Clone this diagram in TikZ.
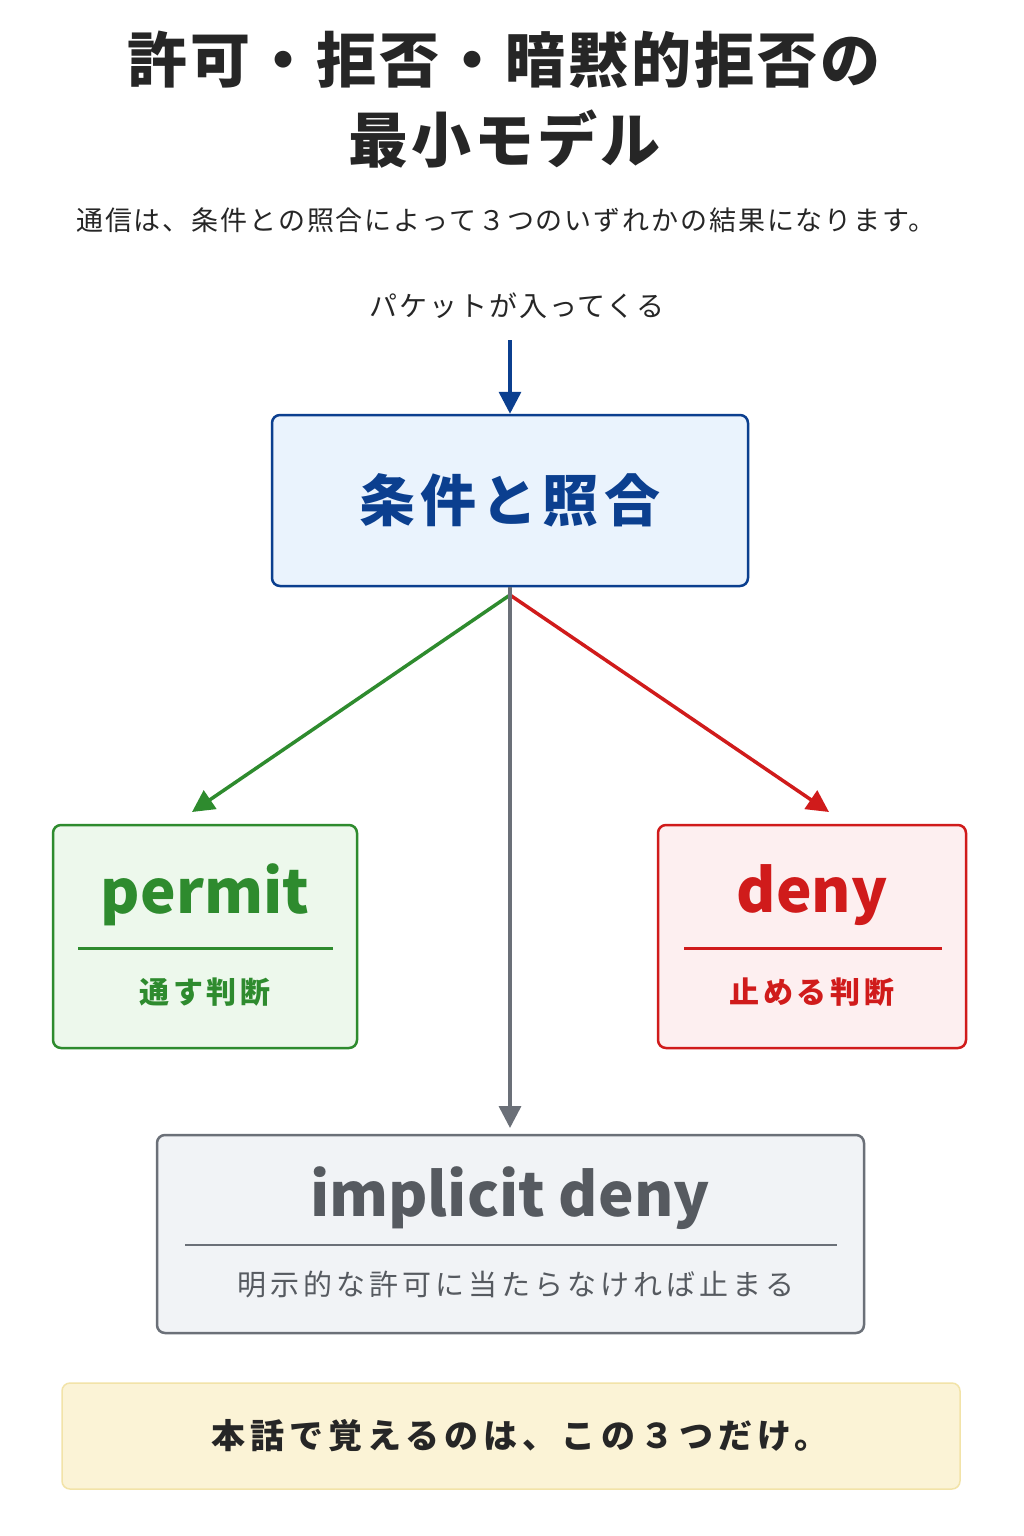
\documentclass[tikz,border=0pt]{standalone}
\usepackage{fontspec}
\setmainfont{Noto Sans CJK JP}
\usetikzlibrary{arrows.meta,positioning}
\definecolor{navy}{HTML}{0B3F8F}
\definecolor{bluefill}{HTML}{EAF3FD}
\definecolor{grn}{HTML}{2E8B2E}
\definecolor{grnfill}{HTML}{EDF8EC}
\definecolor{rd}{HTML}{D01B1B}
\definecolor{rdfill}{HTML}{FDEFF0}
\definecolor{gry}{HTML}{6B7078}
\definecolor{gryfill}{HTML}{F1F3F6}
\definecolor{ylw}{HTML}{FBF3D6}
\definecolor{ylwline}{HTML}{F2E3A8}
\newcommand{\spaced}[1]{\addfontfeature{LetterSpace=#1}}
\begin{document}
\begin{tikzpicture}[x=1pt,y=-1pt]
    \tikzstyle{box}=[draw,line width=2.5pt,rounded corners=8pt,inner sep=0pt]
    \tikzstyle{dedge}=[line width=3.5pt,-{Triangle[length=22pt,width=22pt]}]
    \useasboundingbox[fill=white] (0,0) rectangle (1024,1536);

    \node (title) at (504,100) [align=center,font=\fontsize{60}{80}\selectfont\bfseries\spaced{5},text=black!85]
      {許可・拒否・暗黙的拒否の\\最小モデル};
    \node (sub) at (506,220) [font=\fontsize{27}{30}\selectfont\spaced{7},text=black!85]
      {通信は、条件との照合によって３つのいずれかの結果になります。};
    \node (pkt) at (517,306) [font=\fontsize{28}{32}\selectfont\spaced{7},text=black!85] {パケットが入ってくる};
    \coordinate (pin) at (510,340);

    \node[box,draw=navy,fill=bluefill,minimum width=476pt,minimum height=171pt,
      font=\fontsize{56}{60}\selectfont\bfseries\spaced{9},text=navy] (match) at (510,500.5) {条件と照合};
    \coordinate (fork) at (510,595);

    \node[box,draw=grn,fill=grnfill,minimum width=304pt,minimum height=223pt] (permit) at (205,936.5) {};
    \node[font=\fontsize{60}{64}\selectfont\bfseries,text=grn] (ptxt) at (205,895) {permit};
    \draw[grn,line width=3pt] (78,948) -- (333,948);
    \node[font=\fontsize{30}{34}\selectfont\bfseries\spaced{12},text=grn] (psub) at (205,992) {通す判断};

    \node[box,draw=rd,fill=rdfill,minimum width=308pt,minimum height=223pt] (deny) at (812,936.5) {};
    \node[font=\fontsize{60}{64}\selectfont\bfseries,text=rd] (dtxt) at (812,895) {deny};
    \draw[rd,line width=3pt] (684,948) -- (942,948);
    \node[font=\fontsize{30}{34}\selectfont\bfseries\spaced{12},text=rd] (dsub) at (812,992) {止める判断};

    \node[box,draw=gry,fill=gryfill,minimum width=707pt,minimum height=198pt] (impl) at (510.5,1234) {};
    \node[font=\fontsize{60}{64}\selectfont\bfseries,text=gry!80!black] (itxt) at (510,1198) {implicit deny};
    \draw[gry,line width=2.5pt] (185,1245) -- (837,1245);
    \node[font=\fontsize{29}{34}\selectfont\spaced{14},text=gry!80!black] (isub) at (516,1285) {明示的な許可に当たらなければ止まる};

    \node[box,draw=ylwline,fill=ylw,line width=1.5pt,minimum width=898pt,minimum height=106pt,
      font=\fontsize{34}{38}\selectfont\bfseries\spaced{15},text=black!85] (note) at (511,1436) {};
    \node[font=\fontsize{34}{38}\selectfont\bfseries\spaced{15},text=black!85] (notetxt) at (520,1436)
      {本話で覚えるのは、この３つだけ。};

    \draw[dedge,navy] (pin) -- (match.north);
    \draw[dedge,grn] (fork) -- (192,812);
    \draw[dedge,rd] (fork) -- (829,812);
    \draw[dedge,gry] (match.south) -- (510,1128);
\end{tikzpicture}
\end{document}
